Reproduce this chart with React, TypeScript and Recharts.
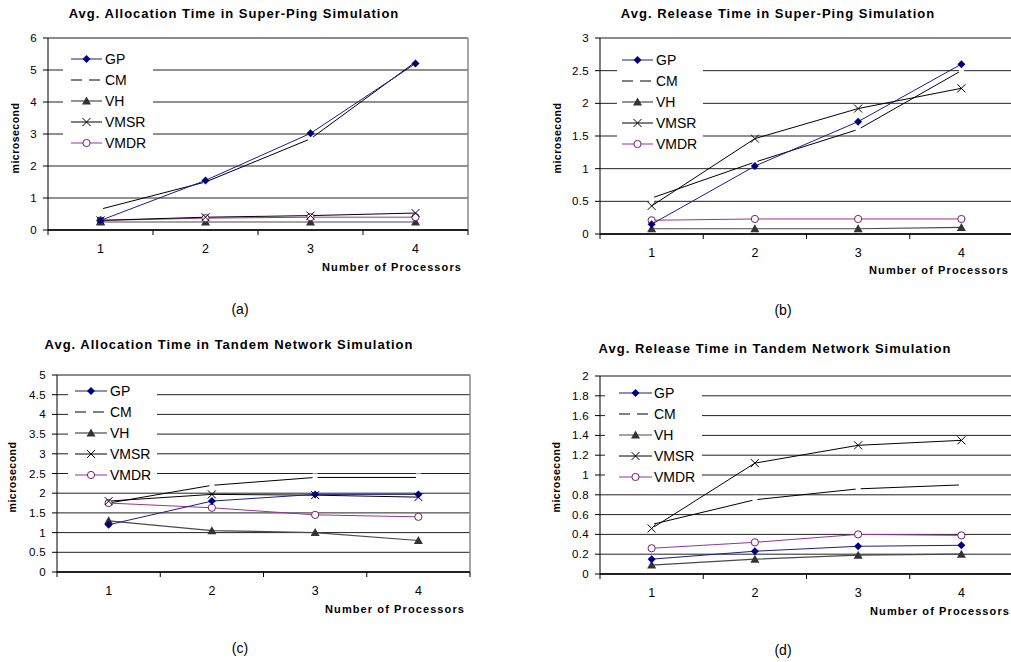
import React from "react";
import { LineChart, Line, XAxis, YAxis, CartesianGrid, ReferenceLine } from "recharts";

const FONT = '"Liberation Sans", Arial, sans-serif';

const processors = [1, 2, 3, 4];
const seriesNames = ["GP", "CM", "VH", "VMSR", "VMDR"];

// (a) allocation time, super-ping
const pingAllocGP = [0.3, 1.55, 3.02, 5.2];
const pingAllocCM = [0.65, 1.5, 2.85, 5.25];
const pingAllocVH = [0.25, 0.25, 0.25, 0.25];
const pingAllocVMSR = [0.3, 0.4, 0.45, 0.53];
const pingAllocVMDR = [0.3, 0.37, 0.4, 0.4];

// (b) release time, super-ping
const pingRelGP = [0.15, 1.04, 1.72, 2.6];
const pingRelCM = [0.55, 1.1, 1.6, 2.5];
const pingRelVH = [0.08, 0.08, 0.08, 0.1];
const pingRelVMSR = [0.43, 1.46, 1.92, 2.23];
const pingRelVMDR = [0.21, 0.23, 0.23, 0.23];

// (c) allocation time, tandem network
const tandemAllocGP = [1.2, 1.8, 1.97, 1.97];
const tandemAllocCM = [1.75, 2.2, 2.4, 2.4];
const tandemAllocVH = [1.3, 1.05, 1.0, 0.8];
const tandemAllocVMSR = [1.8, 1.97, 1.95, 1.9];
const tandemAllocVMDR = [1.75, 1.63, 1.45, 1.4];

// (d) release time, tandem network
const tandemRelGP = [0.15, 0.23, 0.28, 0.29];
const tandemRelCM = [0.5, 0.75, 0.86, 0.9];
const tandemRelVH = [0.09, 0.15, 0.19, 0.2];
const tandemRelVMSR = [0.46, 1.12, 1.3, 1.35];
const tandemRelVMDR = [0.26, 0.32, 0.4, 0.39];

const yTicksA = [0, 1, 2, 3, 4, 5, 6];
const yTicksB = [0, 0.5, 1, 1.5, 2, 2.5, 3];
const yTicksC = [0, 0.5, 1, 1.5, 2, 2.5, 3, 3.5, 4, 4.5, 5];
const yTicksD = [0, 0.2, 0.4, 0.6, 0.8, 1, 1.2, 1.4, 1.6, 1.8, 2];

function rows(gp: number[], cm: number[], vh: number[], vmsr: number[], vmdr: number[]) {
  return processors.map((n, i) => ({ n, GP: gp[i], CM: cm[i], VH: vh[i], VMSR: vmsr[i], VMDR: vmdr[i] }));
}

const COLORS: Record<string, string> = {
  GP: "#1c1c8c",
  CM: "#000000",
  VH: "#4a4a4a",
  VMSR: "#000000",
  VMDR: "#993399",
};

function Marker({ name, cx, cy }: { name: string; cx: number; cy: number }) {
  if (name === "GP")
    return <polygon points={`${cx},${cy - 4} ${cx + 4},${cy} ${cx},${cy + 4} ${cx - 4},${cy}`} fill="#000080" />;
  if (name === "VH")
    return <polygon points={`${cx},${cy - 4.5} ${cx + 4.5},${cy + 3.5} ${cx - 4.5},${cy + 3.5}`} fill="#333333" />;
  if (name === "VMSR")
    return (
      <g stroke="#000" strokeWidth={1}>
        <line x1={cx - 4} y1={cy - 4} x2={cx + 4} y2={cy + 4} />
        <line x1={cx - 4} y1={cy + 4} x2={cx + 4} y2={cy - 4} />
      </g>
    );
  if (name === "VMDR") return <circle cx={cx} cy={cy} r={3.6} fill="#fff" stroke="#6e1f6e" strokeWidth={1} />;
  return null;
}

const panels = [
  {
    title: "Avg. Allocation Time in Super-Ping Simulation", caption: "(a)",
    data: rows(pingAllocGP, pingAllocCM, pingAllocVH, pingAllocVMSR, pingAllocVMDR),
    yTicks: yTicksA, plot: { l: 48, t: 38, r: 468, b: 230 },
    titleX: 234, titleY: 18, xLabelR: 462, xLabelY: 271, capX: 240, capY: 314, yLabelX: 19, yLabelY: 138,
    legend: { l: 63, t: 46, w: 90, h: 109, lineL: 71, lineR: 102, textX: 105, rowY: [59, 80, 101, 122, 143] },
  },
  {
    title: "Avg. Release Time in Super-Ping Simulation", caption: "(b)",
    data: rows(pingRelGP, pingRelCM, pingRelVH, pingRelVMSR, pingRelVMDR),
    yTicks: yTicksB, plot: { l: 600, t: 38, r: 1013, b: 234 },
    titleX: 778, titleY: 18, xLabelR: 1009, xLabelY: 274, capX: 783, capY: 315, yLabelX: 561, yLabelY: 138,
    legend: { l: 617, t: 46, w: 86, h: 109, lineL: 622, lineR: 653, textX: 656, rowY: [60, 81, 102, 123, 144] },
  },
  {
    title: "Avg. Allocation Time in Tandem Network Simulation", caption: "(c)",
    data: rows(tandemAllocGP, tandemAllocCM, tandemAllocVH, tandemAllocVMSR, tandemAllocVMDR),
    yTicks: yTicksC, plot: { l: 57, t: 375, r: 470, b: 572 },
    titleX: 229, titleY: 349, xLabelR: 465, xLabelY: 613, capX: 240, capY: 653, yLabelX: 16, yLabelY: 477,
    legend: { l: 68, t: 380, w: 89, h: 106, lineL: 75, lineR: 107, textX: 110, rowY: [391, 412, 433, 454, 475] },
  },
  {
    title: "Avg. Release Time in Tandem Network Simulation", caption: "(d)",
    data: rows(tandemRelGP, tandemRelCM, tandemRelVH, tandemRelVMSR, tandemRelVMDR),
    yTicks: yTicksD, plot: { l: 600, t: 376, r: 1013, b: 574 },
    titleX: 775, titleY: 353, xLabelR: 1010, xLabelY: 615, capX: 783, capY: 655, yLabelX: 560, yLabelY: 477,
    legend: { l: 605, t: 380, w: 97, h: 106, lineL: 619, lineR: 652, textX: 654, rowY: [393, 414, 435, 456, 477] },
  },
];

const Y_AXIS_W = 48;
const TOP_M = 10;
const X_AXIS_H = 30;

function Panel({ p }: { p: (typeof panels)[number] }) {
  const { l, t, r, b } = p.plot;
  const width = r - l + Y_AXIS_W + 1;
  const height = b - t + TOP_M + X_AXIS_H;
  const bw = (r - l) / 4;
  const yMax = p.yTicks[p.yTicks.length - 1];

  const xTick = (props: any) => {
    const { x, y, payload, index } = props;
    return (
      <g key={`xt-${index}`}>
        <line x1={x - bw / 2} y1={y} x2={x - bw / 2} y2={y + 5} stroke="#000" />
        {index === 3 && <line x1={x + bw / 2} y1={y} x2={x + bw / 2} y2={y + 5} stroke="#000" />}
        <text x={x} y={y + 23} textAnchor="middle" fontSize={12.5} fontFamily={FONT} fill="#000">
          {payload.value}
        </text>
      </g>
    );
  };

  const gapDot = (props: any) => {
    const { cx, cy, index } = props;
    return <rect key={`g-${index}`} x={cx - 2.5} y={cy - 4} width={5} height={8} fill="#fff" />;
  };

  const markerDot = (name: string) => (props: any) =>
    <Marker key={`${name}-${props.index}`} name={name} cx={props.cx} cy={props.cy} />;

  return (
    <div style={{ position: "absolute", left: l - Y_AXIS_W, top: t - TOP_M }}>
      <LineChart width={width} height={height} data={p.data} margin={{ top: TOP_M, right: 1, bottom: 0, left: 0 }}>
        <CartesianGrid vertical={false} stroke="#222" strokeDasharray="" />
        <ReferenceLine y={yMax} stroke="#8a8a8a" strokeWidth={1.5} />
        <ReferenceLine x={4.5} stroke="#8a8a8a" strokeWidth={1.5} />
        <XAxis
          dataKey="n" type="number" domain={[0.5, 4.5]} ticks={processors} interval={0}
          height={X_AXIS_H} tickLine={false} tickSize={0} tickMargin={0} tick={xTick}
          axisLine={{ stroke: "#000", strokeWidth: 1.5 }} allowDataOverflow
        />
        <YAxis
          domain={[0, yMax]} ticks={p.yTicks} interval={0} width={Y_AXIS_W}
          tickSize={5} tickMargin={6} tickLine={{ stroke: "#000" }} axisLine={{ stroke: "#000" }}
          tick={{ fontSize: 11.5, fontFamily: FONT, fill: "#000", letterSpacing: 0.3 }}
        />
        <Line dataKey="CM" stroke={COLORS.CM} strokeWidth={1} dot={gapDot} activeDot={false} isAnimationActive={false} />
        <Line dataKey="VH" stroke={COLORS.VH} strokeWidth={1.2} dot={markerDot("VH")} activeDot={false} isAnimationActive={false} />
        <Line dataKey="VMDR" stroke={COLORS.VMDR} strokeWidth={1} dot={markerDot("VMDR")} activeDot={false} isAnimationActive={false} />
        <Line dataKey="VMSR" stroke={COLORS.VMSR} strokeWidth={1} dot={markerDot("VMSR")} activeDot={false} isAnimationActive={false} />
        <Line dataKey="GP" stroke={COLORS.GP} strokeWidth={1} dot={markerDot("GP")} activeDot={false} isAnimationActive={false} />
      </LineChart>
    </div>
  );
}

function Overlay() {
  return (
    <svg width={1011} height={662} style={{ position: "absolute", left: 0, top: 0, pointerEvents: "none" }}>
      {panels.map((p, pi) => {
        const lg = p.legend;
        return (
          <g key={pi} fontFamily={FONT} fill="#000">
            <text x={p.titleX} y={p.titleY} textAnchor="middle" fontSize={13} fontWeight="bold" letterSpacing={1}>
              {p.title}
            </text>
            <text x={p.xLabelR} y={p.xLabelY} textAnchor="end" fontSize={11} fontWeight="bold" letterSpacing={1.1}>
              Number of Processors
            </text>
            <text
              x={p.yLabelX} y={p.yLabelY} textAnchor="middle" fontSize={10.5} fontWeight="bold" letterSpacing={0.5}
              transform={`rotate(-90 ${p.yLabelX} ${p.yLabelY})`}
            >
              microsecond
            </text>
            <text x={p.capX} y={p.capY} textAnchor="middle" fontSize={14}>
              {p.caption}
            </text>
            <rect x={lg.l} y={lg.t} width={lg.w} height={lg.h} fill="#fff" />
            {seriesNames.map((name, i) => {
              const cy = lg.rowY[i];
              const mid = (lg.lineL + lg.lineR) / 2;
              return (
                <g key={name}>
                  <line
                    x1={lg.lineL} y1={cy} x2={lg.lineR} y2={cy} stroke={COLORS[name]}
                    strokeWidth={name === "VH" ? 1.2 : 1} strokeDasharray={name === "CM" ? "11 7" : undefined}
                  />
                  <Marker name={name} cx={mid} cy={cy} />
                  <text x={lg.textX} y={cy + 5} fontSize={14}>
                    {name}
                  </text>
                </g>
              );
            })}
          </g>
        );
      })}
    </svg>
  );
}

export default function App() {
  return (
    <div style={{ position: "absolute", left: 0, top: 0, width: 1011, height: 662, overflow: "hidden", background: "#fff" }}>
      {panels.map((p, i) => (
        <Panel key={i} p={p} />
      ))}
      <Overlay />
    </div>
  );
}
